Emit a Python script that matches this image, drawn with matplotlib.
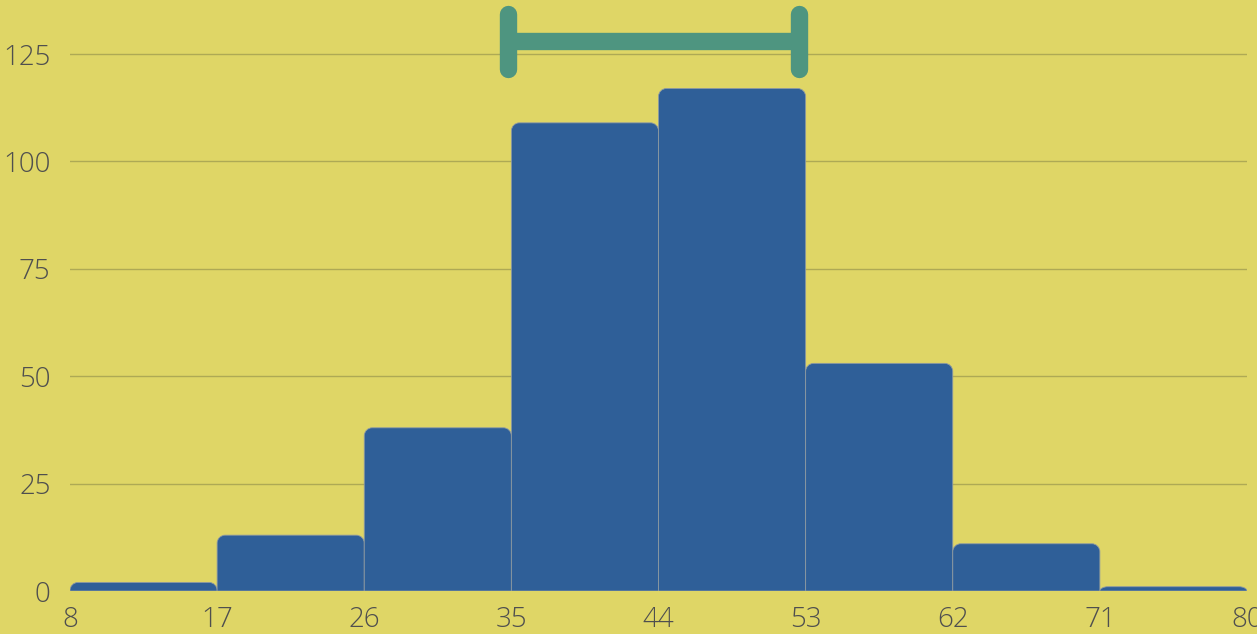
import numpy as np
import matplotlib
matplotlib.use("Agg")
import matplotlib.pyplot as plt
from matplotlib.path import Path
from matplotlib.patches import PathPatch

# Histogram data
bin_edges = [8, 17, 26, 35, 44, 53, 62, 71, 80]
counts = [2, 13, 38, 109, 117, 53, 11, 1]

# Interval drawn above the bars
interval_lo, interval_hi = 34.8, 52.6
interval_y = 128
interval_cap = 6.4

y_ticks = [0, 25, 50, 75, 100, 125]

bg = "#dfd666"
bar_color = "#2f5f98"
text_color = "#4f4f4f"

plt.rcParams["font.family"] = ["Open Sans", "DejaVu Sans"]

fig = plt.figure(figsize=(12.57, 6.34), dpi=100, facecolor=bg)
ax = fig.add_axes([70 / 1257, 43 / 634, 1177 / 1257, 591 / 634])
ax.set_facecolor(bg)
ax.set_xlim(8, 80)
ax.set_ylim(0, 137.6)

widths = np.diff(bin_edges)
bars = ax.bar(bin_edges[:-1], counts, width=widths, align="edge")


def rounded_top(x0, w, h, rx, ry):
    """Path of a bar with rounded top corners (quarter ellipses)."""
    ry = min(ry, h)
    k = 0.5523
    verts = [
        (x0, 0), (x0, h - ry),
        (x0, h - ry + k * ry), (x0 + rx - k * rx, h), (x0 + rx, h),
        (x0 + w - rx, h),
        (x0 + w - rx + k * rx, h), (x0 + w, h - ry + k * ry), (x0 + w, h - ry),
        (x0 + w, 0), (x0, 0),
    ]
    codes = [Path.MOVETO, Path.LINETO,
             Path.CURVE4, Path.CURVE4, Path.CURVE4,
             Path.LINETO,
             Path.CURVE4, Path.CURVE4, Path.CURVE4,
             Path.LINETO, Path.CLOSEPOLY]
    return Path(verts, codes)


# swap plain rectangles for rounded-top versions (radius ~8px)
rx = 8 / 16.35
ry = 8 / 4.296
for rect in bars:
    rect.set_visible(False)
    p = rounded_top(rect.get_x(), rect.get_width(), rect.get_height(), rx, ry)
    ax.add_patch(PathPatch(p, facecolor=bar_color, edgecolor="#8e9aa2",
                           linewidth=0.6, zorder=3))

# interval bar
ax.plot([interval_lo, interval_hi], [interval_y, interval_y], color="#4e9580",
        linewidth=12.5, solid_capstyle="butt", zorder=4, clip_on=False)
for xv in (interval_lo, interval_hi):
    ax.plot([xv, xv], [interval_y - interval_cap, interval_y + interval_cap],
            color="#4e9580", linewidth=12.5, solid_capstyle="round",
            zorder=4, clip_on=False)

ax.set_yticks(y_ticks)
ax.set_xticks(bin_edges)
ax.grid(axis="y", color="#aea955", linewidth=1)
ax.set_axisbelow(True)
for s in ax.spines.values():
    s.set_visible(False)
ax.tick_params(length=0, labelsize=20, colors=text_color)
ax.tick_params(axis="y", pad=14)
ax.tick_params(axis="x", pad=11)
for lab in ax.get_xticklabels() + ax.get_yticklabels():
    lab.set_fontweight("light")

fig.savefig("out.png", facecolor=bg)
